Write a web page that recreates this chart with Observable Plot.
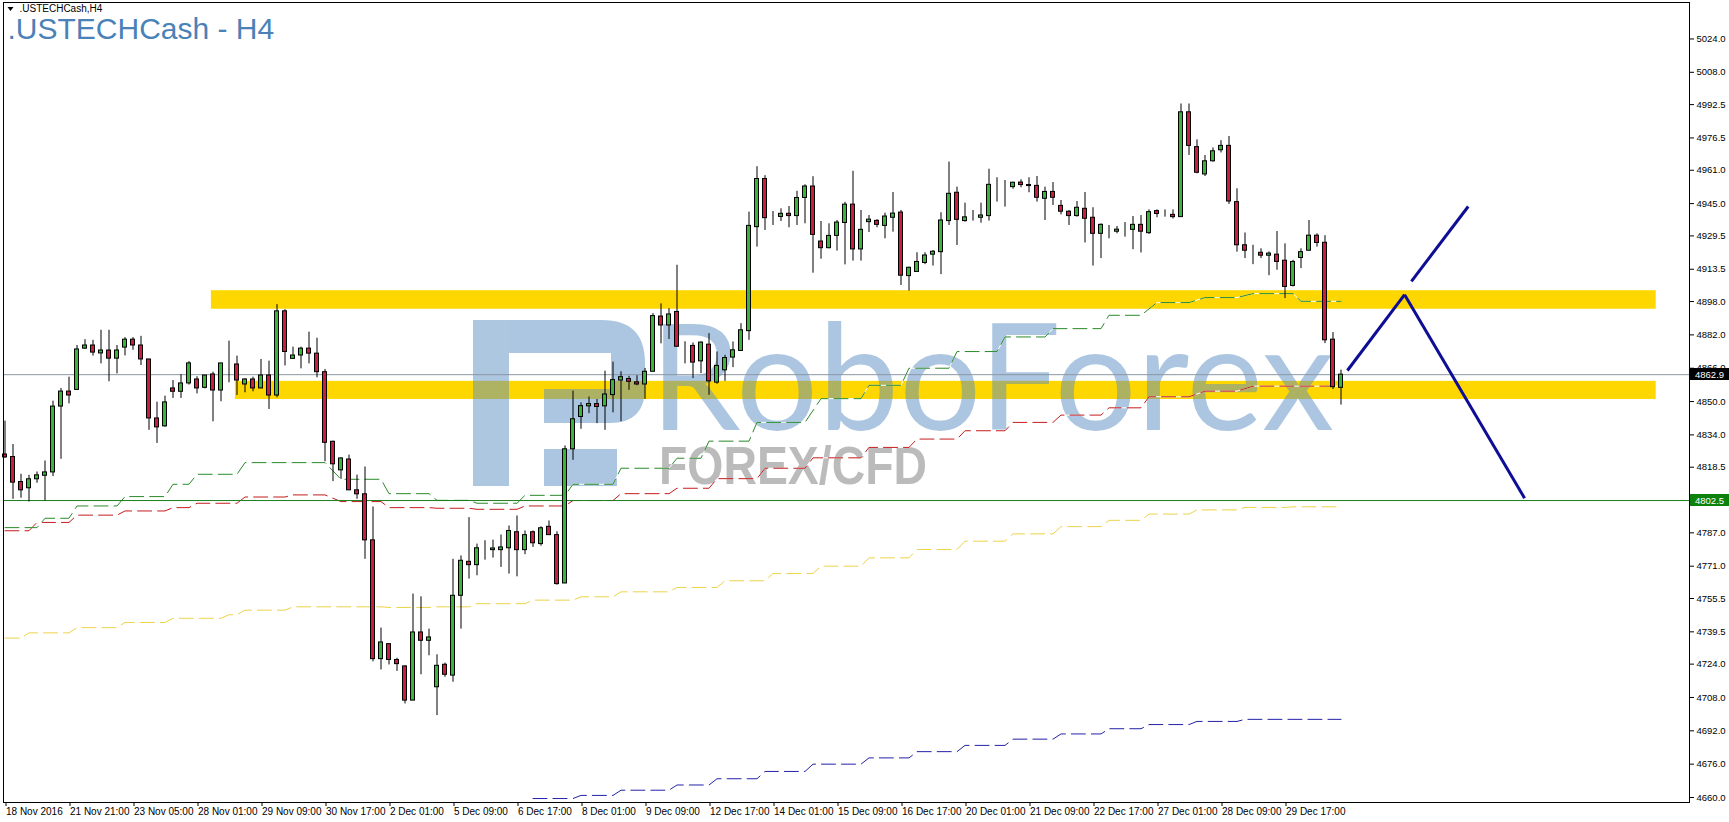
<!DOCTYPE html>
<html><head><meta charset="utf-8">
<script src="https://cdn.jsdelivr.net/npm/d3@7"></script>
<script src="https://cdn.jsdelivr.net/npm/@observablehq/plot@0.6"></script>
<style>
html,body{margin:0;padding:0;background:#fff;}
#wrap{position:relative;width:1729px;height:822px;overflow:hidden;}
</style></head><body><div id="wrap"></div>
<script>
// ---- candle data (H4 bars, index 0 = 18 Nov 2016) ----
const open = [4824.6,4823.4,4811.4,4808.4,4812.7,4814.4,4816.0,4847.6,4854.8,4855.6,4875.4,4876.9,4873.1,4874.5,4870.6,4875.9,4879.7,4876.9,4870.2,4841.9,4838.1,4856.3,4854.7,4858.7,4860.6,4856.6,4863.0,4855.3,4867.6,4867.8,4858.2,4860.6,4856.3,4862.5,4852.9,4893.3,4870.5,4872.1,4875.4,4873.0,4864.1,4830.7,4817.0,4822.2,4807.4,4805.5,4783.4,4726.4,4733.6,4726.0,4722.9,4706.5,4739.2,4735.2,4712.9,4723.7,4718.5,4756.8,4773.1,4771.5,4778.8,4778.7,4778.7,4779.6,4787.3,4778.7,4787.3,4781.6,4789.9,4785.9,4762.7,4827.1,4842.6,4847.7,4848.8,4847.7,4853.1,4860.1,4860.8,4859.2,4858.2,4864.3,4890.8,4886.5,4893.0,4875.8,4876.7,4869.3,4877.3,4859.1,4865.0,4871.1,4874.3,4883.8,4933.7,4956.8,4938.6,4938.6,4940.1,4939.0,4947.7,4953.2,4926.8,4923.6,4929.5,4935.7,4944.5,4923.0,4936.1,4936.7,4934.3,4938.2,4940.7,4910.2,4912.2,4916.5,4920.5,4921.7,4936.6,4950.2,4936.6,4938.5,4938.2,4939.0,4954.0,4953.5,4952.9,4955.1,4953.9,4953.5,4947.3,4950.6,4943.9,4941.1,4939.0,4942.5,4938.2,4930.5,4931.8,4931.5,4932.4,4932.4,4934.8,4930.8,4941.4,4939.8,4939.6,4938.5,4988.8,4972.1,4959.0,4965.3,4970.6,4972.7,4945.7,4925.0,4921.6,4921.4,4920.0,4920.5,4917.6,4905.5,4918.9,4922.4,4929.6,4926.2,4879.7,4856.6];
const high = [4840.6,4829.4,4815.1,4814.6,4816.2,4821.5,4850.2,4856.3,4861.7,4876.9,4879.7,4879.4,4884.2,4884.2,4876.9,4880.7,4880.7,4881.3,4870.2,4849.7,4852.6,4860.1,4863.0,4869.2,4861.9,4862.5,4864.1,4868.3,4879.0,4871.8,4861.0,4861.7,4870.2,4869.4,4896.5,4894.1,4876.1,4876.1,4883.3,4880.4,4865.4,4831.0,4823.0,4824.3,4814.7,4818.6,4799.4,4741.3,4733.6,4726.8,4723.2,4757.6,4756.3,4740.8,4728.5,4724.5,4774.3,4775.9,4794.3,4781.6,4783.2,4783.5,4786.0,4790.3,4795.1,4787.9,4787.9,4789.9,4792.7,4787.5,4828.7,4855.0,4849.4,4852.2,4851.0,4864.6,4868.9,4864.3,4862.1,4862.4,4865.9,4892.2,4896.9,4894.6,4915.4,4878.7,4878.1,4878.6,4882.6,4873.8,4872.2,4878.6,4887.4,4940.9,4962.7,4958.4,4941.2,4942.5,4943.6,4950.9,4954.0,4957.9,4936.4,4935.3,4936.9,4945.6,4960.5,4941.7,4939.3,4937.3,4940.4,4950.3,4941.7,4914.5,4921.4,4921.4,4922.5,4940.6,4964.9,4952.9,4945.2,4941.7,4945.2,4961.5,4957.4,4956.1,4955.3,4956.4,4957.4,4958.0,4952.9,4955.1,4946.5,4941.7,4946.0,4950.3,4943.0,4935.3,4934.5,4934.0,4935.9,4938.8,4939.3,4942.0,4942.0,4942.0,4942.0,4992.8,4992.8,4975.6,4968.1,4971.7,4975.2,4977.2,4952.1,4930.9,4925.0,4923.3,4921.8,4931.6,4925.7,4917.8,4923.3,4936.9,4930.5,4929.6,4883.1,4865.1];
const low = [4822.7,4803.1,4803.6,4801.8,4810.8,4802.3,4814.0,4822.3,4848.9,4855.3,4875.0,4871.8,4868.1,4859.5,4863.3,4871.9,4874.6,4867.3,4836.2,4829.9,4837.7,4851.5,4851.5,4857.9,4853.7,4856.1,4840.3,4849.9,4859.0,4852.9,4854.2,4854.7,4856.1,4846.2,4851.8,4867.1,4870.2,4865.7,4868.1,4861.4,4821.1,4811.6,4812.7,4807.4,4803.1,4774.3,4725.1,4721.2,4723.6,4720.5,4704.9,4706.5,4718.9,4728.0,4699.3,4717.7,4715.3,4740.8,4764.8,4766.4,4773.9,4774.9,4770.4,4767.2,4765.9,4776.5,4780.0,4780.6,4785.9,4761.9,4762.7,4821.8,4836.7,4844.2,4839.4,4836.2,4844.6,4840.3,4855.4,4857.6,4851.0,4864.3,4877.7,4879.8,4876.1,4868.1,4861.0,4863.4,4853.0,4858.3,4859.7,4866.3,4874.3,4879.4,4924.1,4932.1,4934.5,4936.4,4933.4,4934.5,4935.3,4911.6,4918.3,4923.3,4922.2,4915.6,4917.4,4917.4,4931.1,4933.4,4928.1,4931.3,4905.7,4903.0,4912.2,4915.7,4915.0,4910.9,4934.5,4924.9,4936.1,4936.6,4935.6,4936.6,4945.7,4943.3,4951.9,4952.6,4950.2,4945.7,4936.9,4944.1,4939.6,4934.5,4938.5,4926.1,4915.0,4918.6,4928.1,4930.5,4928.9,4922.9,4921.3,4930.2,4938.2,4938.5,4937.6,4938.5,4968.1,4959.3,4958.0,4964.9,4969.3,4944.6,4921.7,4918.6,4915.7,4918.6,4910.4,4913.0,4899.4,4905.0,4913.8,4922.1,4924.1,4877.8,4855.8,4848.3];
const close = [4823.2,4811.1,4807.4,4812.7,4814.6,4816.0,4847.6,4854.8,4852.9,4875.0,4876.9,4873.5,4874.5,4870.6,4874.5,4879.7,4876.9,4870.2,4841.9,4837.6,4849.6,4854.7,4858.7,4868.3,4856.3,4862.5,4855.3,4868.3,4867.6,4860.1,4860.6,4856.3,4862.5,4852.9,4893.3,4873.8,4872.1,4875.4,4873.0,4864.1,4830.2,4819.9,4822.7,4807.4,4805.5,4783.4,4726.4,4734.4,4726.0,4724.0,4706.5,4739.2,4735.2,4736.8,4723.2,4718.9,4756.8,4773.6,4771.5,4779.6,4778.8,4779.5,4780.0,4787.9,4778.7,4785.9,4782.0,4789.2,4785.9,4762.4,4827.1,4841.5,4847.8,4848.8,4847.4,4853.4,4860.3,4861.7,4859.5,4858.2,4864.3,4891.0,4886.5,4891.8,4876.3,4875.8,4868.7,4878.3,4859.7,4867.1,4870.9,4874.6,4884.2,4934.3,4956.8,4938.0,4938.6,4940.1,4939.0,4947.7,4953.2,4930.0,4923.6,4929.5,4935.9,4944.5,4923.0,4932.4,4937.3,4934.8,4938.8,4940.2,4910.4,4914.2,4917.0,4920.1,4921.9,4936.9,4949.7,4937.2,4938.4,4938.5,4939.3,4954.0,4954.0,4953.5,4955.0,4953.9,4953.4,4947.8,4950.6,4947.8,4941.1,4939.0,4943.0,4937.7,4930.5,4934.8,4931.8,4932.5,4932.4,4934.8,4931.5,4940.9,4940.0,4939.8,4938.5,4988.8,4972.7,4959.8,4965.3,4970.1,4972.7,4946.0,4925.0,4922.4,4921.6,4920.0,4921.0,4917.0,4905.0,4917.0,4921.7,4929.6,4926.1,4879.4,4856.9,4862.9];

// ---- axis labels ----
const timeLabels = ["18 Nov 2016","21 Nov 21:00","23 Nov 05:00","28 Nov 01:00","29 Nov 09:00","30 Nov 17:00","2 Dec 01:00","5 Dec 09:00","6 Dec 17:00","8 Dec 01:00","9 Dec 09:00","12 Dec 17:00","14 Dec 01:00","15 Dec 09:00","16 Dec 17:00","20 Dec 01:00","21 Dec 09:00","22 Dec 17:00","27 Dec 01:00","28 Dec 09:00","29 Dec 17:00"];
const priceTicks = [5024.0,5008.0,4992.5,4976.5,4961.0,4945.0,4929.5,4913.5,4898.0,4882.0,4866.0,4850.0,4834.0,4818.5,4802.5,4787.0,4771.0,4755.5,4739.5,4724.0,4708.0,4692.0,4676.0,4660.0];

// ---- moving averages: [first bar, last bar, value] runs ----
const maGreen = [[0,4,4789.5],[5,8,4794],[9,14,4799.9],[15,20,4804.4],[21,23,4810.3],[24,29,4815.1],[30,40,4820.7],[42,47,4812.7],[48,53,4805.8],[54,58,4802.6],[59,64,4801.2],[65,70,4805.0],[71,76,4810.3],[77,83,4818.0],[84,87,4822.8],[88,93,4831],[94,100,4840],[102,107,4851.4],[108,112,4857.8],[113,118,4866],[119,124,4874],[125,130,4881],[131,137,4885],[138,142,4891.4],[144,148,4897.5],[150,154,4899.9],[156,161,4901.8],[162,167,4898.1]];
const maRed = [[0,3,4788],[4,8,4792],[9,14,4795.5],[15,20,4797.5],[21,23,4799.1],[24,29,4801.2],[30,35,4804.2],[36,40,4805.2],[42,47,4802.0],[48,53,4799.1],[54,58,4798.8],[59,64,4798.3],[65,70,4799.9],[71,76,4802.5],[77,83,4805.8],[84,88,4808.4],[89,94,4813],[95,100,4818],[101,107,4823],[108,113,4828],[114,119,4832],[120,125,4836],[126,131,4840],[132,137,4843.5],[138,142,4847],[143,148,4852.3],[150,154,4855.0],[156,167,4857.4]];
const maYellow = [[0,2,4736.5],[3,8,4739],[9,14,4741.5],[15,20,4744],[21,27,4746],[28,29,4747.7],[30,35,4749.9],[36,47,4751.5],[48,53,4751.2],[54,58,4751.5],[59,65,4753],[66,71,4754.7],[72,76,4756.3],[77,83,4758.7],[84,89,4760.8],[90,95,4764],[96,101,4767.5],[102,107,4771],[108,113,4775],[114,119,4779],[120,125,4783],[126,131,4786.5],[132,137,4790],[138,142,4793],[143,148,4796],[149,154,4798],[155,160,4799.2],[161,167,4799.5]];
const maBlue = [[66,71,4659.5],[72,76,4661],[77,83,4663.5],[84,88,4666],[89,94,4669],[95,100,4672.5],[101,107,4676],[108,113,4679],[114,119,4682],[120,125,4685],[126,131,4688],[132,137,4690.5],[138,142,4693],[143,148,4695],[149,154,4696.5],[155,167,4697.5]];

// ---- chart objects ----
const zones = [{from:25.8, to:206.4, lo:4894.3, hi:4903.2},{from:28.8, to:206.4, lo:4851.0, hi:4859.7}];
const levels = [{price:4862.9, color:"#8a96a2", label:"#000000"},{price:4802.5, color:"#1b7f1b", label:"#0c820c"}];
const trendLines = [
  {x1:167.8, y1:4864.9, x2:174.95, y2:4901.3},
  {x1:174.95, y1:4901.3, x2:189.95, y2:4803.6},
  {x1:175.8, y1:4907.7, x2:182.9, y2:4943.6}
];

const candles = open.map((o,i)=>({i, o, h:high[i], l:low[i], c:close[i]}));
const runsToPoints = runs => runs.flatMap(([a,b,v]) => [{x:a,y:v},{x:b,y:v}]);

const GREEN = "#3cb43c", RED = "#c8203c";

function watermark(index, scales, values, dim) {
  const g = d3.create("svg:g").attr("text-anchor","start");
  const logo = g.append("g").attr("fill","#5b8fc4").attr("opacity",0.5);
  logo.append("path").attr("d",
    "M473,320 H509 V486 H473 Z M509,320 H602 Q645,320 645,363 V388 Q645,423 610,423 H544 V389 H611 V353 H509 Z M544,449 H617 V486 H544 Z");
  logo.append("text").attr("x",650).attr("y",430).attr("text-anchor","start")
    .attr("font-family","Lato, 'Open Sans', sans-serif")
    .attr("font-size",148).attr("textLength",684).attr("lengthAdjust","spacingAndGlyphs").text("RoboForex");
  g.append("text").attr("x",659).attr("y",484).attr("text-anchor","start")
    .attr("font-family","'Liberation Sans', Arial, sans-serif")
    .attr("font-weight","bold").attr("font-size",54).attr("fill","#7a7a7a").attr("opacity",0.5)
    .attr("textLength",268).attr("lengthAdjust","spacingAndGlyphs").text("FOREX/CFD");
  return g.node();
}

function priceTags(index, scales, values, dim) {
  const g = d3.create("svg:g").attr("text-anchor","start");
  const x0 = dim.width - dim.marginRight;
  for (const lv of levels) {
    const y = Math.round(scales.y(lv.price));
    g.append("rect").attr("x", x0+1).attr("y", y-6).attr("width", 39).attr("height", 12).attr("fill", lv.label);
    g.append("text").attr("x", x0+6).attr("y", y+3.5).attr("fill","white").attr("text-anchor","start")
      .attr("font-family","'Liberation Sans', Arial, sans-serif").attr("font-size",9.5)
      .text(lv.price.toFixed(1));
  }
  return g.node();
}

function menuArrow(index, scales, values, dim) {
  return d3.create("svg:path").attr("d","M7.5,7 H13.5 L10.5,11 Z").attr("fill","black").node();
}

const maMarks = (runs, color) => [
  Plot.line(runsToPoints(runs), {x:"x", y:"y", stroke:"white", strokeWidth:1, clip:true}),
  Plot.line(runsToPoints(runs), {x:"x", y:"y", stroke:color, strokeWidth:1, strokeDasharray:"14,6", clip:true})
];

const chart = Plot.plot({
  width: 1729, height: 822,
  marginLeft: 3, marginRight: 40, marginTop: 2, marginBottom: 20,
  x: {type:"linear", domain:[-0.1875, 210.5625], axis:null},
  y: {domain:[4657.6, 5041.5], axis:null},
  style: {background:"white", fontFamily:"'Liberation Sans', Arial, sans-serif", color:"black"},
  marks: [
    Plot.rect(zones, {x1:"from", x2:"to", y1:"lo", y2:"hi", fill:"#FFD700"}),
    watermark,
    ...maMarks(maBlue, "#2222a8"),
    ...maMarks(maYellow, "#ecd34a"),
    ...maMarks(maRed, "#c41c1c"),
    ...maMarks(maGreen, "#2a8a2a"),
    Plot.ruleY(levels, {y:"price", stroke:"color"}),
    Plot.ruleX(candles, {x:"i", y1:"l", y2:"h", stroke:"black"}),
    Plot.rect(candles, {x1:d=>d.i-0.25, x2:d=>d.i+0.25, y1:"o", y2:"c",
      fill:d=>d.c>=d.o ? GREEN : RED, stroke:"black", strokeWidth:1}),
    Plot.link(trendLines, {x1:"x1", y1:"y1", x2:"x2", y2:"y2", stroke:"#0d0d96", strokeWidth:3}),
    Plot.frame({stroke:"black"}),
    Plot.axisY(priceTicks, {anchor:"right", tickSize:4, tickPadding:3, fontSize:9.5,
      tickFormat:d=>d.toFixed(1)}),
    Plot.axisX(d3.range(0, 161, 8), {anchor:"bottom", tickSize:4, tickPadding:1, fontSize:10,
      textAnchor:"start", dx:1, tickFormat:d=>timeLabels[d/8]}),
    priceTags,
    menuArrow,
    Plot.text([".USTECHCash,H4"], {frameAnchor:"top-left", dx:16, dy:2, fontSize:10, lineAnchor:"top", textAnchor:"start", fill:"black"}),
    Plot.text([".USTECHCash - H4"], {frameAnchor:"top-left", dx:4, dy:15, fontSize:30, lineAnchor:"top", textAnchor:"start", fill:"#4a82b8"})
  ]
});
document.getElementById("wrap").appendChild(chart);
</script>
</body></html>
